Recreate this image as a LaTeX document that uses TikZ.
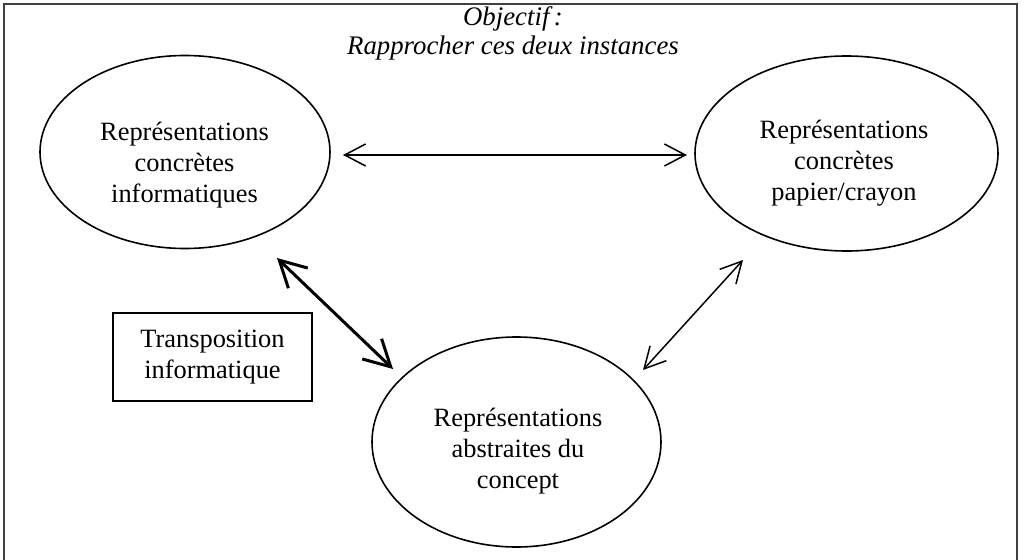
\documentclass[tikz,border=0pt]{standalone}
\usepackage{fontspec}
\setmainfont{Liberation Serif}
\usetikzlibrary{shapes.geometric,arrows.meta,calc}
\tikzset{
  blob/.style={draw, ellipse, line width=1.6pt, inner sep=0pt},
  lbl/.style={align=center, font=\fontsize{26.4}{31}\selectfont, inner sep=0pt},
  thinarrow/.style={line width=1.5pt, {Straight Barb[length=21pt,width=22pt]}-{Straight Barb[length=21pt,width=22pt]}},
  thickarrow/.style={line width=3pt, {Straight Barb[length=26pt,width=28pt]}-{Straight Barb[length=26pt,width=28pt]}},
  tbox/.style={draw, line width=1.5pt, minimum width=199pt, minimum height=88pt, inner sep=0pt}
}
\begin{document}
\begin{tikzpicture}[x=1pt,y=-1pt]
\useasboundingbox (0,0) rectangle (1027,559);
\fill[white] (0,0) rectangle (1027,559);
\draw[line width=1.5pt, black!75] (4,570) -- (4,4) -- (1017,4) -- (1017,570);
\node[lbl, font=\fontsize{26.8}{29}\selectfont\itshape] (title) at (513,33) {Objectif\,:\\Rapprocher ces deux instances};
\node[blob, minimum width=290pt, minimum height=193pt] (A) at (185,152) {};
\node[blob, minimum width=303pt, minimum height=195pt] (B) at (846.5,153.5) {};
\node[blob, minimum width=289pt, minimum height=210pt] (C) at (516.5,442) {};
\node[lbl] (At) at (184.5,165) {Représentations\\concrètes\\informatiques};
\node[lbl] (Bt) at (844,163) {Représentations\\concrètes\\papier/crayon};
\node[lbl] (Ct) at (518,451) {Représentations\\abstraites du\\concept};
\node[tbox, lbl] (T) at (212.5,357) {Transposition\\informatique};
\draw[thinarrow] ($(A.center)+(158,3)$) -- ($(B.center)+(-159.5,1.5)$);
\draw[thickarrow] ($(A.center)+(92,106)$) -- ($(C.center)+(-123.5,-73)$);
\draw[thinarrow] ($(B.center)+(-103.5,106.5)$) -- ($(C.center)+(126.5,-72)$);
\end{tikzpicture}
\end{document}
